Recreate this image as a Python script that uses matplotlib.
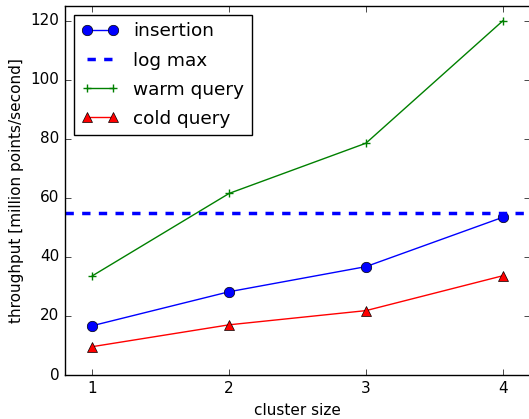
import matplotlib
matplotlib.use('Agg')
import matplotlib.pyplot as plt

# cluster size vs throughput
cluster_size = [1, 2, 3, 4]
insertion = [16.7, 28.2, 36.7, 53.4]
warm_query = [33.6, 61.5, 78.5, 119.9]
cold_query = [9.6, 17.0, 21.8, 33.6]
log_max = 54.7

plt.style.use('classic')
fig = plt.figure(figsize=(5.29, 4.19), dpi=100, facecolor='white')
ax = fig.add_axes([0.123, 0.105, 0.879, 0.881])

ax.plot(cluster_size, insertion, 'b-o', markersize=7.5, label='insertion')
ax.axhline(log_max, color='b', linestyle='--', linewidth=2.5, label='log max')
ax.plot(cluster_size, warm_query, 'g-+', markersize=6, markeredgewidth=1, label='warm query')
ax.plot(cluster_size, cold_query, 'r-^', markersize=7.5, label='cold query')

ax.set_xlim(0.8, 4.2)
ax.set_ylim(0, 125)
ax.set_xticks(cluster_size)
ax.set_yticks([0, 20, 40, 60, 80, 100, 120])
ax.tick_params(labelsize=11)
ax.set_xlabel('cluster size', fontsize=11)
ax.set_ylabel('throughput [million points/second]', fontsize=11)
ax.legend(loc='upper left', numpoints=2, fontsize=13.3, labelspacing=0.6)

fig.savefig('out.png', dpi=100, facecolor='white')
